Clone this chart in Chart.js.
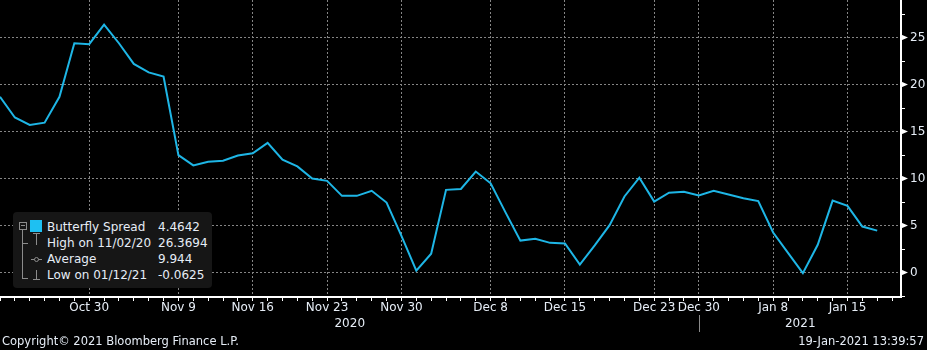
<!DOCTYPE html>
<html>
<head>
<meta charset="utf-8">
<script src="https://cdn.jsdelivr.net/npm/chart.js@4.4.1/dist/chart.umd.min.js"></script>
<style>
  html, body { margin: 0; padding: 0; background: #000; }
  #wrap { position: relative; width: 927px; height: 350px; background: #000; overflow: hidden; }
  #chart { position: absolute; left: 0; top: 0; }
  .txt { position: absolute; font-family: "DejaVu Sans", sans-serif; color: #e6edf6; white-space: nowrap; }
  #legend { position: absolute; left: 13px; top: 212px; width: 199px; height: 76px; background: #161616; border-radius: 4px; }
  #legend .row { position: absolute; left: 34px; height: 16px; line-height: 16px; font-size: 12px; }
  #legend .val { position: absolute; left: 145px; height: 16px; line-height: 16px; font-size: 12px; }
  #legend .g { position: absolute; background: #8c8c8c; }
</style>
</head>
<body>
<div id="wrap">
  <canvas id="chart" width="927" height="350"></canvas>
  <div id="legend">
    <div class="g" style="left:9px;top:17px;width:1px;height:50px;"></div>
    <div class="g" style="left:9px;top:31px;width:6px;height:1px;"></div>
    <div class="g" style="left:9px;top:66px;width:6px;height:1px;"></div>
    <div style="position:absolute;left:6px;top:10px;width:6px;height:6px;border:1px solid #8c8c8c;background:#161616;"></div>
    <div class="g" style="left:8px;top:13px;width:4px;height:1px;"></div>
    <div style="position:absolute;left:17px;top:8px;width:12px;height:12px;background:#1ec0f2;"></div>
    <div class="g" style="left:20px;top:21px;width:7px;height:1px;"></div>
    <div class="g" style="left:23px;top:21px;width:1px;height:12px;"></div>
    <div class="g" style="left:18px;top:47px;width:11px;height:1px;"></div>
    <div style="position:absolute;left:21px;top:45px;width:3px;height:3px;border:1px solid #8c8c8c;border-radius:3px;background:#161616;"></div>
    <div class="g" style="left:23px;top:58px;width:1px;height:9px;"></div>
    <div class="g" style="left:20px;top:67px;width:7px;height:1px;"></div>
    <div class="row txt" style="top:7px;">Butterfly Spread</div>
    <div class="val txt" style="top:7px;">4.4642</div>
    <div class="row txt" style="top:23px;">High on 11/02/20</div>
    <div class="val txt" style="top:23px;">26.3694</div>
    <div class="row txt" style="top:39px;">Average</div>
    <div class="val txt" style="top:39px;">9.944</div>
    <div class="row txt" style="top:55px;">Low on 01/12/21</div>
    <div class="val txt" style="top:55px;">-0.0625</div>
  </div>
  <div class="txt" style="left:2px;top:334px;font-size:11.5px;">Copyright© 2021 Bloomberg Finance L.P.</div>
  <div class="txt" style="right:3px;top:334px;font-size:11.5px;">19-Jan-2021 13:39:57</div>
</div>
<script>
// trading days shown on the x axis
const dates = [
  'Oct 22', 'Oct 23', 'Oct 26', 'Oct 27', 'Oct 28', 'Oct 29', 'Oct 30',
  'Nov 2', 'Nov 3', 'Nov 4', 'Nov 5', 'Nov 6',
  'Nov 9', 'Nov 10', 'Nov 11', 'Nov 12', 'Nov 13',
  'Nov 16', 'Nov 17', 'Nov 18', 'Nov 19', 'Nov 20',
  'Nov 23', 'Nov 24', 'Nov 25', 'Nov 26', 'Nov 27',
  'Nov 30', 'Dec 1', 'Dec 2', 'Dec 3', 'Dec 4',
  'Dec 7', 'Dec 8', 'Dec 9', 'Dec 10', 'Dec 11',
  'Dec 14', 'Dec 15', 'Dec 16', 'Dec 17', 'Dec 18',
  'Dec 21', 'Dec 22', 'Dec 23', 'Dec 24', 'Dec 29', 'Dec 30',
  'Jan 4', 'Jan 5', 'Jan 6', 'Jan 7', 'Jan 8',
  'Jan 11', 'Jan 12', 'Jan 13', 'Jan 14', 'Jan 15',
  'Jan 18', 'Jan 19'
];

// butterfly spread
const spread = [
  18.7, 16.5, 15.7, 15.95, 18.7, 24.4, 24.3,
  26.3694, 24.4, 22.2, 21.3, 20.85,
  12.5, 11.4, 11.8, 11.9, 12.45,
  12.7, 13.8, 12.0, 11.3, 10.0,
  9.76, 8.16, 8.16, 8.7, 7.45,
  3.9, 0.2, 2.0, 8.8, 8.9,
  10.75, 9.5, 6.4, 3.4, 3.6,
  3.16, 3.1, 0.85, 2.9, 5.05,
  8.1, 10.1, 7.55, 8.5, 8.6, 8.2,
  8.7, 8.3, 7.9, 7.6, 4.26,
  2.1, -0.0625, 2.95, 7.66, 7.1,
  4.9, 4.4642
];

const tickLabels = ['Oct 30', 'Nov 9', 'Nov 16', 'Nov 23', 'Nov 30', 'Dec 8',
                    'Dec 15', 'Dec 23', 'Dec 30', 'Jan 8', 'Jan 15'];
const yearLabels = ['2020', '2021'];
const yearBreak = 'Dec 30';

// axis runs a little past the last session, like the terminal does
const X_MAX = 60.6;
const Y_MIN = -2.6;
const Y_MAX = 29;

const FONT = { family: 'DejaVu Sans', size: 12 };
const TEXT = '#e6edf6';
const GRID = '#858585';

const isMajor = v => Math.abs(v % 5) < 1e-9;
const labelAt = v => (Number.isInteger(v) && tickLabels.includes(dates[v])) ? dates[v] : '';

// triangles on the right axis, year divider and year names under the date ticks
const extras = {
  id: 'extras',
  afterDraw(chart) {
    const { ctx, scales: { x, y }, chartArea } = chart;
    ctx.save();
    ctx.fillStyle = '#fff';
    y.ticks.forEach(t => {
      if (!isMajor(t.value)) return;
      const py = y.getPixelForValue(t.value);
      ctx.beginPath();
      ctx.moveTo(chartArea.right, py - 3);
      ctx.lineTo(chartArea.right + 7, py);
      ctx.lineTo(chartArea.right, py + 3);
      ctx.closePath();
      ctx.fill();
    });
    const bx = Math.round(x.getPixelForValue(dates.indexOf(yearBreak))) + 0.5;
    ctx.strokeStyle = '#8a8a8a';
    ctx.lineWidth = 1;
    ctx.beginPath();
    ctx.moveTo(bx, chartArea.bottom + 18);
    ctx.lineTo(bx, chartArea.bottom + 35);
    ctx.stroke();
    ctx.fillStyle = TEXT;
    ctx.font = '12px "DejaVu Sans"';
    ctx.textAlign = 'center';
    ctx.textBaseline = 'middle';
    const ty = chartArea.bottom + 27;
    ctx.fillText(yearLabels[0], (chartArea.left + bx) / 2, ty);
    ctx.fillText(yearLabels[1], (bx + chartArea.right) / 2, ty);
    ctx.restore();
  }
};

new Chart(document.getElementById('chart'), {
  type: 'line',
  data: {
    datasets: [{
      label: 'Butterfly Spread',
      data: spread.map((v, i) => ({ x: i, y: v })),
      borderColor: '#1eb6e6',
      borderWidth: 2,
      pointRadius: 0,
      tension: 0,
      fill: false,
    }],
  },
  options: {
    responsive: false,
    animation: false,
    parsing: false,
    layout: { padding: 0 },
    plugins: { legend: { display: false }, tooltip: { enabled: false } },
    scales: {
      x: {
        type: 'linear',
        min: 0,
        max: X_MAX,
        afterBuildTicks: s => {
          s.ticks = [];
          for (let i = 0; i <= Math.floor(X_MAX); i++) s.ticks.push({ value: i });
        },
        ticks: {
          autoSkip: false,
          maxRotation: 0,
          minRotation: 0,
          padding: 0,
          color: TEXT,
          font: FONT,
          callback: v => labelAt(v),
        },
        grid: {
          color: c => (c.tick && labelAt(c.tick.value)) ? GRID : 'transparent',
          tickColor: '#fff',
          tickLength: 4,
          lineWidth: 1,
        },
        border: { color: '#fff', width: 2, dash: [2, 2] },
        afterFit: s => { s.height = 53; s.paddingLeft = 0; s.paddingRight = 0; },
      },
      y: {
        position: 'right',
        min: Y_MIN,
        max: Y_MAX,
        ticks: {
          stepSize: 2.5,
          includeBounds: false,
          padding: 5,
          color: TEXT,
          font: FONT,
          callback: v => isMajor(v) ? String(v) : '',
        },
        grid: {
          color: c => (c.tick && isMajor(c.tick.value)) ? GRID : 'transparent',
          tickColor: '#fff',
          tickLength: 4,
          lineWidth: 1,
        },
        border: { color: '#fff', width: 2, dash: [2, 2] },
        afterFit: s => { s.width = 26; s.paddingTop = 0; s.paddingBottom = 0; },
      },
    },
  },
  plugins: [extras],
});
</script>
</body>
</html>
